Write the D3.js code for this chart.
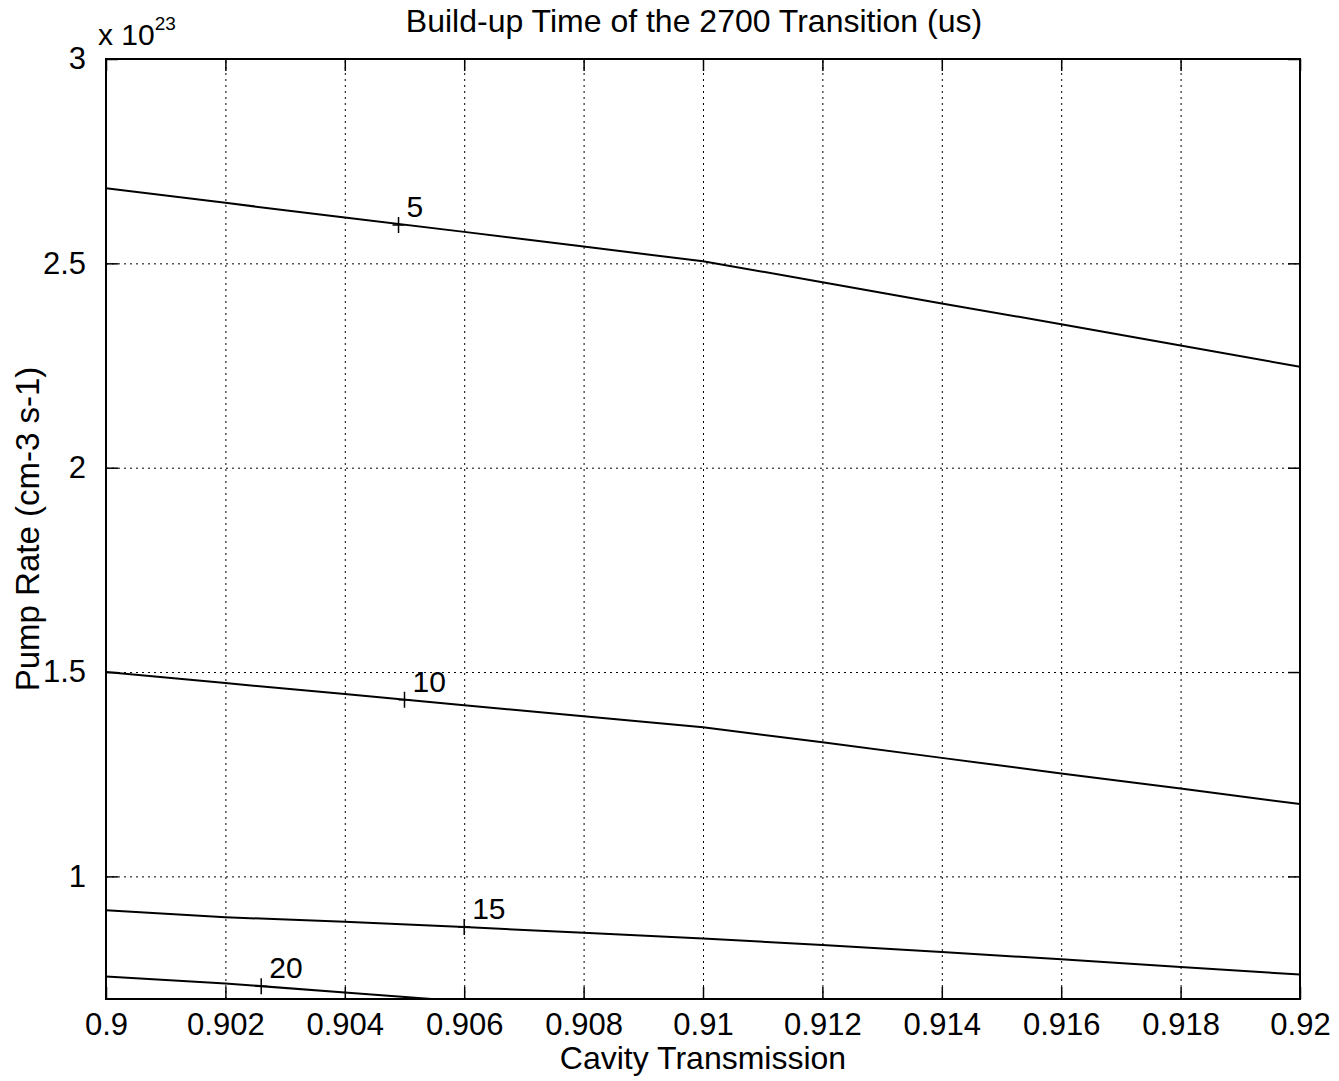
<!DOCTYPE html>
<html lang="en">
<head>
  <meta charset="utf-8" />
  <title>Build-up Time contour</title>
  <style>
    body { margin: 0; background: #fff; }
    svg { display: block; font-family: "Liberation Sans", Arial, sans-serif; }
    .frame { fill: none; stroke: #000; stroke-width: 2; }
    .grid line { stroke: #000; stroke-width: 1; stroke-dasharray: 2,4; }
    .grid path { display: none; }
    .axis path { display: none; }
    .axis line { stroke: #000; stroke-width: 1.5; }
    .axis text { font-size: 31px; fill: #000; }
    .contour { fill: none; stroke: #000; stroke-width: 2; }
  </style>
</head>
<body>
  <svg width="1339" height="1081"></svg>

  <script src="https://d3js.org/d3.v7.min.js"></script>
  <script>
    // values (pump rate in units of 1e23)
    const transmission = [0.900, 0.902, 0.904, 0.906, 0.908, 0.910, 0.912, 0.914, 0.916, 0.918, 0.920];
    const rate5  = [2.684, 2.648, 2.612, 2.577, 2.541, 2.505, 2.454, 2.402, 2.351, 2.299, 2.247];
    const rate10 = [1.500, 1.473, 1.446, 1.419, 1.392, 1.365, 1.328, 1.290, 1.252, 1.215, 1.177];
    const rate15 = [0.917, 0.900, 0.889, 0.876, 0.862, 0.848, 0.832, 0.815, 0.797, 0.778, 0.760];
    const rate20 = [0.755, 0.738, 0.716, 0.694, null, null, null, null, null, null, null];

    const levels = [5, 10, 15, 20];
    const labelX = [0.9049, 0.9050, 0.9060, 0.9026];
    const labelY = [2.594, 1.432, 0.876, 0.731];

    const xTicks = [0.9, 0.902, 0.904, 0.906, 0.908, 0.91, 0.912, 0.914, 0.916, 0.918, 0.92];
    const yTicks = [1, 1.5, 2, 2.5, 3];

    const margin = {top: 59, right: 39, bottom: 82, left: 106};
    const W = 1339, H = 1081;
    const width = W - margin.left - margin.right;
    const height = H - margin.top - margin.bottom;

    const x = d3.scaleLinear().domain([0.9, 0.92]).range([0, width]);
    const y = d3.scaleLinear().domain([0.7, 3]).range([height, 0]);

    const svg = d3.select("svg");
    const g = svg.append("g").attr("transform", `translate(${margin.left},${margin.top})`);

    g.append("clipPath").attr("id", "plotclip")
      .append("rect").attr("width", width).attr("height", height);

    // dotted grid
    g.append("g").attr("class", "grid")
      .attr("transform", `translate(0,${height})`)
      .call(d3.axisBottom(x).tickValues(xTicks.slice(1, -1)).tickSize(-height).tickFormat(""));
    g.append("g").attr("class", "grid")
      .call(d3.axisLeft(y).tickValues(yTicks.slice(0, -1)).tickSize(-width).tickFormat(""));

    // axes with inward ticks
    const fmtX = d => +d.toFixed(3);
    g.append("g").attr("class", "axis")
      .attr("transform", `translate(0,${height})`)
      .call(d3.axisBottom(x).tickValues(xTicks).tickSizeInner(-12).tickSizeOuter(0)
        .tickPadding(22).tickFormat(fmtX))
      .selectAll("text").attr("dy", "0.45em");
    g.append("g").attr("class", "axis")
      .call(d3.axisTop(x).tickValues(xTicks).tickSizeInner(-12).tickSizeOuter(0).tickFormat(""));
    g.append("g").attr("class", "axis")
      .call(d3.axisLeft(y).tickValues(yTicks).tickSizeInner(-12).tickSizeOuter(0)
        .tickPadding(20).tickFormat(d => d));
    g.append("g").attr("class", "axis")
      .attr("transform", `translate(${width},0)`)
      .call(d3.axisRight(y).tickValues(yTicks).tickSizeInner(-12).tickSizeOuter(0).tickFormat(""));

    // contour lines
    const series = [rate5, rate10, rate15, rate20];
    const line = d3.line()
      .defined(d => d[1] != null)
      .x(d => x(d[0]))
      .y(d => y(d[1]));

    const lines = g.append("g").attr("clip-path", "url(#plotclip)");
    series.forEach(s => {
      lines.append("path")
        .attr("class", "contour")
        .attr("d", line(transmission.map((t, i) => [t, s[i]])));
    });

    // clabel markers and text
    levels.forEach((lv, i) => {
      const px = x(labelX[i]), py = y(labelY[i]);
      g.append("path")
        .attr("d", `M${px - 6},${py}H${px + 6}M${px},${py - 8}V${py + 8}`)
        .attr("stroke", "#000").attr("stroke-width", 1.5);
      g.append("text")
        .attr("x", px + 8).attr("y", py - 8)
        .attr("font-size", 30)
        .text(lv);
    });

    // frame
    g.append("rect").attr("class", "frame").attr("width", width).attr("height", height);

    // exponent label
    const ex = g.append("text").attr("x", -8).attr("y", -14).attr("font-size", 30);
    ex.append("tspan").text("x 10");
    ex.append("tspan").attr("font-size", 19).attr("dy", -15).text("23");

    // title and axis labels
    svg.append("text")
      .attr("x", 694).attr("y", 32)
      .attr("text-anchor", "middle")
      .attr("font-size", 32)
      .text("Build-up Time of the 2700 Transition (us)");

    svg.append("text")
      .attr("x", margin.left + width / 2).attr("y", 1069)
      .attr("text-anchor", "middle")
      .attr("font-size", 32)
      .text("Cavity Transmission");

    svg.append("text")
      .attr("transform", `translate(39,${margin.top + height / 2}) rotate(-90)`)
      .attr("text-anchor", "middle")
      .attr("font-size", 33)
      .text("Pump Rate (cm-3 s-1)");
  </script>
</body>
</html>
